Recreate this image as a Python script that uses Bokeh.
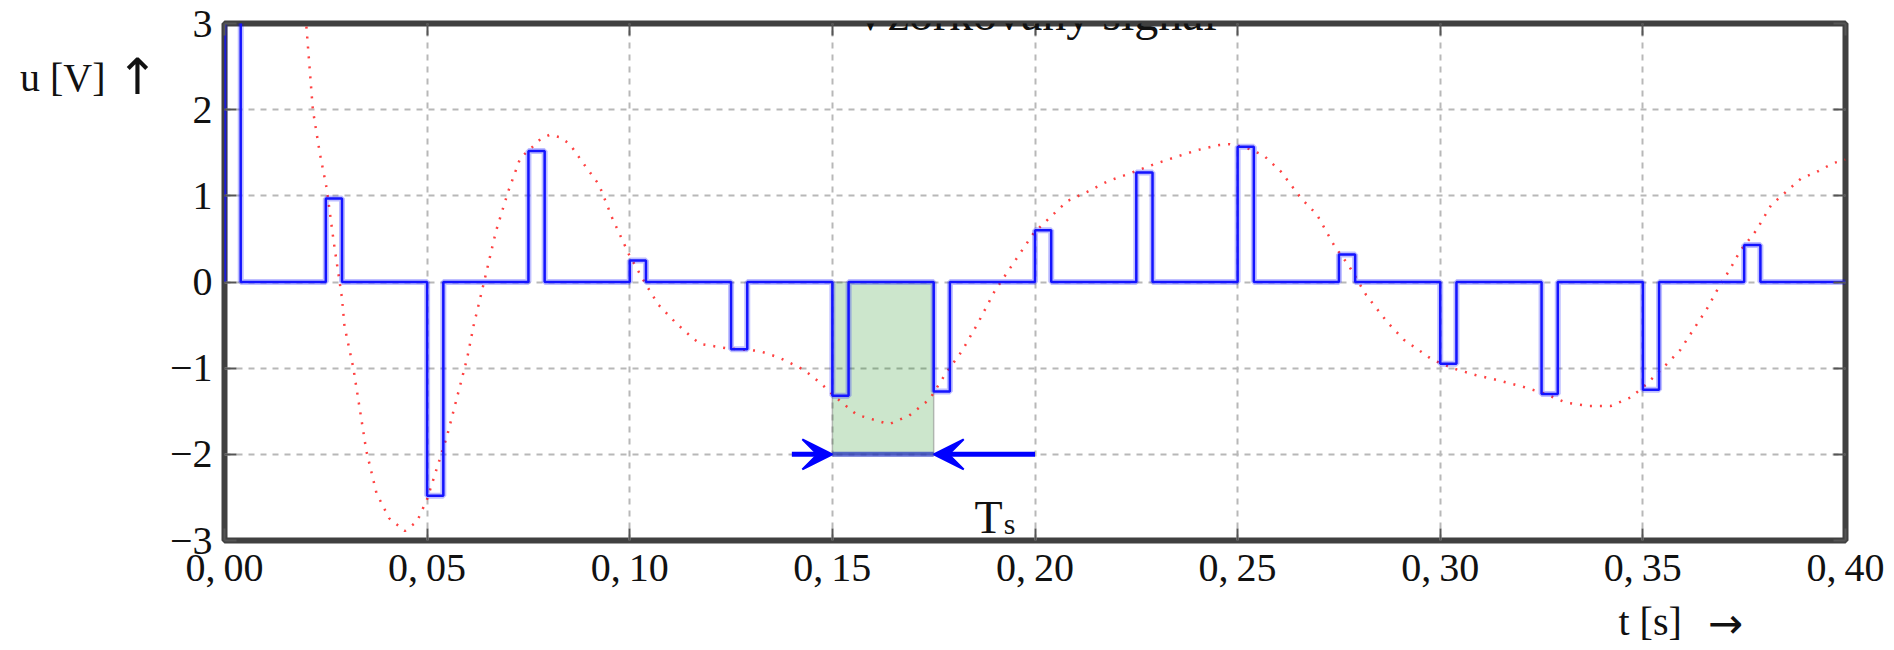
from bokeh.plotting import figure
from bokeh.models import (Range1d, FixedTicker, LinearAxis, Label, Arrow, VeeHead,
                          CustomJSTickFormatter)
from bokeh.embed import file_html
from bokeh.resources import INLINE

# ---------------- data ----------------
signal_t = [0.000, 0.008, 0.014, 0.018, 0.0202, 0.0218, 0.0235, 0.0252, 0.027, 0.029,
            0.0296, 0.0318, 0.035, 0.0375, 0.0406, 0.0445, 0.0475, 0.050, 0.0549, 0.0599,
            0.0615, 0.0643, 0.067, 0.070, 0.073, 0.0758, 0.078, 0.0803, 0.0828, 0.0852,
            0.0885, 0.0924, 0.0957, 0.100, 0.104, 0.107, 0.1115, 0.1155, 0.1175, 0.124,
            0.132, 0.137, 0.143, 0.147, 0.1506, 0.156, 0.164, 0.169, 0.174, 0.178,
            0.182, 0.186, 0.190, 0.1947, 0.1997, 0.2035, 0.208, 0.213, 0.218, 0.2234,
            0.229, 0.234, 0.240, 0.2455, 0.248, 0.252, 0.2564, 0.2607, 0.2657, 0.2696,
            0.274, 0.2773, 0.2817, 0.287, 0.291, 0.2956, 0.298, 0.303, 0.3087, 0.3143,
            0.320, 0.3255, 0.331, 0.3368, 0.342, 0.347, 0.3508, 0.3555, 0.3592, 0.3625,
            0.3657, 0.3686, 0.3714, 0.374, 0.378, 0.3816, 0.3854, 0.389, 0.393, 0.397, 0.400]
signal_u = [6.0, 5.6, 4.6, 3.6, 2.97, 2.0, 1.5, 1.09, 0.45, -0.19,
            -0.51, -1.0, -1.96, -2.45, -2.74, -2.89, -2.78, -2.52, -1.79, -0.88,
            -0.5, 0.05, 0.59, 1.05, 1.44, 1.56, 1.66, 1.71, 1.68, 1.60,
            1.38, 1.13, 0.74, 0.30, -0.03, -0.26, -0.48, -0.65, -0.72, -0.77,
            -0.80, -0.88, -1.02, -1.17, -1.33, -1.54, -1.65, -1.55, -1.36, -1.06,
            -0.80, -0.47, -0.11, 0.22, 0.57, 0.74, 0.94, 1.05, 1.17, 1.26,
            1.36, 1.44, 1.53, 1.59, 1.60, 1.56, 1.47, 1.28, 0.97, 0.78,
            0.41, 0.20, -0.15, -0.47, -0.67, -0.82, -0.90, -1.00, -1.08, -1.14,
            -1.21, -1.29, -1.40, -1.44, -1.44, -1.34, -1.19, -0.97, -0.79, -0.55,
            -0.32, -0.07, 0.14, 0.36, 0.60, 0.89, 1.05, 1.20, 1.28, 1.38, 1.42]

sample_t = [0.000, 0.025, 0.050, 0.075, 0.100, 0.125, 0.150, 0.175, 0.200, 0.225,
            0.250, 0.275, 0.300, 0.325, 0.350, 0.375]
sample_u = [6.0, 0.97, -2.48, 1.52, 0.25, -0.78, -1.32, -1.27, 0.60, 1.27,
            1.57, 0.32, -0.95, -1.30, -1.25, 0.43]
pulse_width = 0.004
t_end = 0.40

ts_start = 0.150
ts_end = 0.175
ts_level = -2.0
arrow_left_from = 0.14
arrow_right_from = 0.20

x_ticks = [0.0, 0.05, 0.10, 0.15, 0.20, 0.25, 0.30, 0.35, 0.40]
x_tick_labels = ["0,\u200900", "0,\u200905", "0,\u200910", "0,\u200915", "0,\u200920",
                 "0,\u200925", "0,\u200930", "0,\u200935", "0,\u200940"]
y_ticks = [-3, -2, -1, 0, 1, 2, 3]
y_tick_labels = ["\u22123", "\u22122", "\u22121", "0", "1", "2", "3"]

title_text = "Vzorkovaný signál"
y_label_text = "u [V]"
y_label_arrow = "\u2191"
y_label_pos = 2.374          # data height of the u-label
x_label_text = "t [s]"
x_label_arrow = "\u2192"
x_label_pos = 0.3518         # data position of the t-label
x_arrow_pos = 0.3704         # data position of its arrow

FONT = "Liberation Serif"
ARROW_FONT = "DejaVu Sans"
INK = "#111111"

# ---------------- step (sampled) line ----------------
step_x, step_y = [], []
for t, u in zip(sample_t, sample_u):
    step_x += [t, t, t + pulse_width, t + pulse_width]
    step_y += [0, u, u, 0]
step_x.append(t_end)
step_y.append(0)

# ---------------- figure ----------------
p = figure(width=1894, height=650,
           x_range=Range1d(0, 0.4), y_range=Range1d(-3, 3),
           output_backend="svg", toolbar_location=None,
           min_border_left=224, min_border_right=49,
           min_border_top=23, min_border_bottom=109)

p.outline_line_color = "#404040"
p.outline_line_width = 6
p.background_fill_color = "white"

for ax in p.xaxis:
    ax.ticker = FixedTicker(ticks=x_ticks)
    ax.major_label_overrides = dict(zip(x_ticks, x_tick_labels))
for ax in p.yaxis:
    ax.ticker = FixedTicker(ticks=y_ticks)
    ax.major_label_overrides = dict(zip(y_ticks, y_tick_labels))

for ax in list(p.xaxis) + list(p.yaxis):
    ax.axis_line_color = None
    ax.major_tick_in = 12
    ax.major_tick_out = 0
    ax.major_tick_line_color = "#555555"
    ax.major_tick_line_width = 2
    ax.minor_tick_line_color = None
    ax.major_label_text_font = FONT
    ax.major_label_text_font_size = "40px"
    ax.major_label_text_color = INK
p.xaxis.major_label_standoff = 4
p.yaxis.major_label_standoff = 12

# tick-only axes on top and right (no labels)
blank = CustomJSTickFormatter(code="return ''")
top_ax = LinearAxis(ticker=FixedTicker(ticks=x_ticks), formatter=blank,
                    axis_line_color=None, major_tick_in=12, major_tick_out=0,
                    major_tick_line_color="#555555", major_tick_line_width=2,
                    minor_tick_line_color=None, major_label_standoff=0,
                    major_label_text_font_size="10px")
right_ax = LinearAxis(ticker=FixedTicker(ticks=y_ticks), formatter=blank,
                      axis_line_color=None, major_tick_in=12, major_tick_out=0,
                      major_tick_line_color="#555555", major_tick_line_width=2,
                      minor_tick_line_color=None, major_label_standoff=0,
                      major_label_text_font_size="10px")
p.add_layout(top_ax, "above")
p.add_layout(right_ax, "right")


def label_axis(pos, text, font, size, standoff):
    return LinearAxis(ticker=FixedTicker(ticks=[pos]), major_label_overrides={pos: text},
                      axis_line_color=None, major_tick_in=0, major_tick_out=0,
                      major_tick_line_color=None, minor_tick_line_color=None,
                      major_label_standoff=standoff, major_label_text_font=font,
                      major_label_text_font_size=size, major_label_text_color=INK)


# quantity labels "u [V] ↑" (left, near the top) and "t [s] →" (below, right)
p.add_layout(label_axis(y_label_pos, y_label_arrow, ARROW_FONT, "50px", 8), "left")
p.add_layout(label_axis(y_label_pos, y_label_text, FONT, "40px", 8), "left")
p.add_layout(label_axis(x_label_pos, x_label_text, FONT, "40px", 6), "below")
p.add_layout(label_axis(x_arrow_pos, x_label_arrow, ARROW_FONT, "42px", -48), "below")

for g in (p.xgrid, p.ygrid):
    g.grid_line_color = "#b8b8b8"
    g.grid_line_width = 2
    g.grid_line_dash = "6 6"
p.xgrid.ticker = FixedTicker(ticks=x_ticks)
p.ygrid.ticker = FixedTicker(ticks=y_ticks)

# shaded sampling period
p.quad(left=[ts_start], right=[ts_end], bottom=[ts_level], top=[0],
       fill_color="green", fill_alpha=0.2, line_color="#7f7f7f", line_alpha=0.5, line_width=1.5)

# continuous signal
p.line(signal_t, signal_u, line_color="#ff2020", line_alpha=0.85, line_width=2.5,
       line_dash="2 8")

# sampled signal
p.line(step_x, step_y, line_color="#0000ff", line_alpha=0.25, line_width=6)
p.line(step_x, step_y, line_color="#1414ff", line_width=2.5)

# Ts arrows
p.line([ts_start, ts_end], [ts_level, ts_level], line_color="#2030c0", line_alpha=0.7, line_width=5)
for x0, x1 in ((arrow_left_from, ts_start), (arrow_right_from, ts_end)):
    p.add_layout(Arrow(end=VeeHead(size=30, fill_color="#0000ff", line_color="#0000ff", line_width=2),
                       x_start=x0, y_start=ts_level, x_end=x1, y_end=ts_level,
                       line_color="#0000ff", line_width=5))

p.add_layout(Label(x=0.1851, y=-2.734, text="T", text_font=FONT, text_font_size="46px",
                   text_baseline="alphabetic", text_align="left", text_color=INK))
p.add_layout(Label(x=0.1923, y=-2.804, text="s", text_font=FONT, text_font_size="30px",
                   text_baseline="alphabetic", text_align="left", text_color=INK))

# title (partly cut at the top edge, as in the reference)
p.add_layout(Label(x=0.2, y=3.116, text=title_text, text_font=FONT, text_font_size="48px",
                   text_baseline="alphabetic", text_align="center", text_color=INK))

open("out.html", "w").write(file_html(p, INLINE))
